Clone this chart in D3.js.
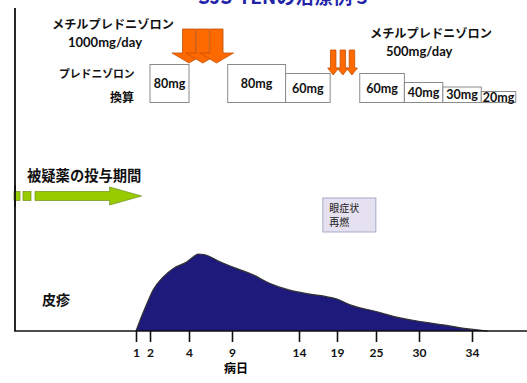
<!DOCTYPE html>
<html><head><meta charset="utf-8">
<script src="https://cdn.jsdelivr.net/npm/d3@7"></script>
<style>body{margin:0;background:#fff}svg{display:block}</style>
</head><body>
<svg id="c" width="527" height="383"></svg>
<script>
// ---- data ----
const tickDays = [1, 2, 4, 9, 14, 19, 25, 30, 34];
const rashDays = [1, 1.29, 1.79, 2.15, 2.67, 3.18, 3.9, 4.47, 5.05, 5.86, 7.6, 9.37, 10.57, 11.8, 13.3, 15.4, 17.7, 19, 21, 25.1, 27.4, 29.8, 31.8, 33.6, 35.2];
const rashValues = [0, 14, 36, 53, 70, 81, 90, 96, 100, 99, 90, 81, 73, 62, 53, 48, 44.5, 41.5, 34, 25, 18, 13, 8, 3, 0];
const doseLabels = ["80mg", "80mg", "60mg", "60mg", "40mg", "30mg", "20mg"];
const doseValues = [80, 80, 60, 60, 40, 30, 20];
const doseStart = [2, 8.5, 13, 22.5, 28.3, 31.8, 34.7];
const doseEnd = [4, 13, 18.1, 28.3, 31.8, 34.7, 37.3];
const pulse1Days = [4, 5.6, 7.2];      // methylprednisolone 1000mg/day
const pulse2Days = [18.5, 19.9, 21.3]; // methylprednisolone 500mg/day
const drugEndDay = 1.4;
const eyeEventDay = 20.9;

// ---- layout ----
const svg = d3.select("#c");
const JP = "'Noto Sans CJK JP', sans-serif";
const NUM = "Lato, 'Noto Sans', sans-serif";
const baseY = 331, leftX = 15;

const x = d3.scaleLinear().domain(tickDays).range([136, 150, 189, 232, 299, 337, 376, 419, 472]);
const y = d3.scaleLinear().domain([0, 100]).range([baseY, 254]);
const h = d3.scaleLinear().domain([20, 80]).range([11, 38]);

// title (cut off at top)
svg.append("text").attr("x", 198).attr("y", 3.5)
  .attr("font-family", JP).attr("font-weight", "bold").attr("font-size", 19)
  .attr("fill", "#2424a8").text("SJS-TENの治療例 3");

// rash area
const pts = rashDays.map((d, i) => ({day: d, v: rashValues[i]}));
const crv = d3.curveMonotoneX;
svg.append("path").datum(pts)
  .attr("d", d3.area().x(d => x(d.day)).y0(baseY).y1(d => y(d.v)).curve(crv))
  .attr("fill", "#1e1a7b");
svg.append("path").datum(pts)
  .attr("d", d3.line().x(d => x(d.day)).y(d => y(d.v)).curve(crv))
  .attr("fill", "none").attr("stroke", "#333").attr("stroke-width", 1.2);

// axes lines
svg.append("line").attr("x1", leftX).attr("x2", leftX).attr("y1", 8).attr("y2", baseY)
  .attr("stroke", "#111").attr("stroke-width", 1.8);
svg.append("line").attr("x1", leftX - 1).attr("x2", 527).attr("y1", baseY).attr("y2", baseY)
  .attr("stroke", "#111").attr("stroke-width", 1.6);

const ax = svg.append("g").attr("transform", `translate(0,${baseY})`)
  .call(d3.axisBottom(x).tickValues(tickDays).tickSize(11).tickSizeOuter(0).tickPadding(6).tickFormat(d3.format("d")));
ax.select(".domain").remove();
ax.selectAll(".tick line").attr("stroke", "#111").attr("stroke-width", 1.6);
ax.selectAll(".tick text").attr("font-family", NUM).attr("font-weight", "bold").attr("font-size", 12).attr("fill", "#111");

svg.append("text").attr("x", 236).attr("y", 373).attr("text-anchor", "middle")
  .attr("font-family", JP).attr("font-weight", "bold").attr("font-size", 12).text("病日");

// labels
function jp(t, xx, yy, size, anchor) {
  return svg.append("text").attr("x", xx).attr("y", yy).attr("text-anchor", anchor || "start")
    .attr("font-family", JP).attr("font-weight", "bold").attr("font-size", size).attr("fill", "#111").text(t);
}
jp("メチルプレドニゾロン", 52, 29, 12.2);
svg.append("text").attr("x", 68).attr("y", 47).attr("font-family", NUM).attr("font-weight", "bold")
  .attr("font-size", 13).attr("fill", "#111").text("1000mg/day");
jp("プレドニゾロン", 59, 78, 10.8);
jp("換算", 110, 102, 12);
jp("メチルプレドニゾロン", 370, 38, 12.2);
svg.append("text").attr("x", 386).attr("y", 56).attr("font-family", NUM).attr("font-weight", "bold")
  .attr("font-size", 13).attr("fill", "#111").text("500mg/day");
jp("被疑薬の投与期間", 27, 181, 14.3);
jp("皮疹", 42, 305, 14);

// dose boxes
const boxBottom = 102.5;
doseLabels.forEach((lab, i) => {
  const x0 = x(doseStart[i]), x1 = x(doseEnd[i]), hh = h(doseValues[i]);
  svg.append("rect").attr("x", x0).attr("y", boxBottom - hh).attr("width", x1 - x0).attr("height", hh)
    .attr("fill", "#fff").attr("stroke", "#8a8a8a").attr("stroke-width", 1);
  svg.append("text").attr("x", (x0 + x1) / 2).attr("y", boxBottom - hh / 2 + 4.5)
    .attr("text-anchor", "middle").attr("font-family", NUM).attr("font-weight", "bold")
    .attr("font-size", 12.5).attr("fill", "#111").text(lab);
});

// pulse arrows
function downArrow(cx, top, headStart, tip, sw, hw) {
  return `M${cx - sw / 2},${top}H${cx + sw / 2}V${headStart}H${cx + hw / 2}L${cx},${tip}L${cx - hw / 2},${headStart}H${cx - sw / 2}Z`;
}
pulse1Days.forEach(d => {
  svg.append("path").attr("d", downArrow(x(d), 29, 53, 63, 13, 34))
    .attr("fill", "#ff6a00").attr("stroke", "#c44f00").attr("stroke-width", 0.8);
});
pulse2Days.forEach(d => {
  svg.append("path").attr("d", downArrow(x(d), 50, 68, 75, 5.5, 11))
    .attr("fill", "#ff6a00").attr("stroke", "#c44f00").attr("stroke-width", 0.8);
});

// drug administration arrow
const gTip = x(drugEndDay), gy = 196;
const gFill = "#99cc00", gStroke = "#6f8f1a";
svg.append("rect").attr("x", 14).attr("y", gy - 4.5).attr("width", 6).attr("height", 9).attr("fill", gFill).attr("stroke", gStroke).attr("stroke-width", 0.7);
svg.append("rect").attr("x", 23).attr("y", gy - 4.5).attr("width", 8).attr("height", 9).attr("fill", gFill).attr("stroke", gStroke).attr("stroke-width", 0.7);
svg.append("path")
  .attr("d", `M35,${gy - 4.5}H${gTip - 32}V${gy - 9}L${gTip},${gy}L${gTip - 32},${gy + 9}V${gy + 4.5}H35Z`)
  .attr("fill", gFill).attr("stroke", gStroke).attr("stroke-width", 0.7);
svg.append("line").attr("x1", leftX).attr("x2", leftX).attr("y1", 185).attr("y2", 207)
  .attr("stroke", "#111").attr("stroke-width", 1.8);

// eye symptom box
const ex = x(eyeEventDay);
svg.append("rect").attr("x", ex - 26.5).attr("y", 198).attr("width", 53).attr("height", 34)
  .attr("fill", "#e6e1f0").attr("stroke", "#a3abc9").attr("stroke-width", 1);
jp("眼症状", ex - 20, 212, 10).attr("font-weight", "normal").attr("fill", "#222");
jp("再燃", ex - 20, 225.5, 10).attr("font-weight", "normal").attr("fill", "#222");
</script>
</body></html>
